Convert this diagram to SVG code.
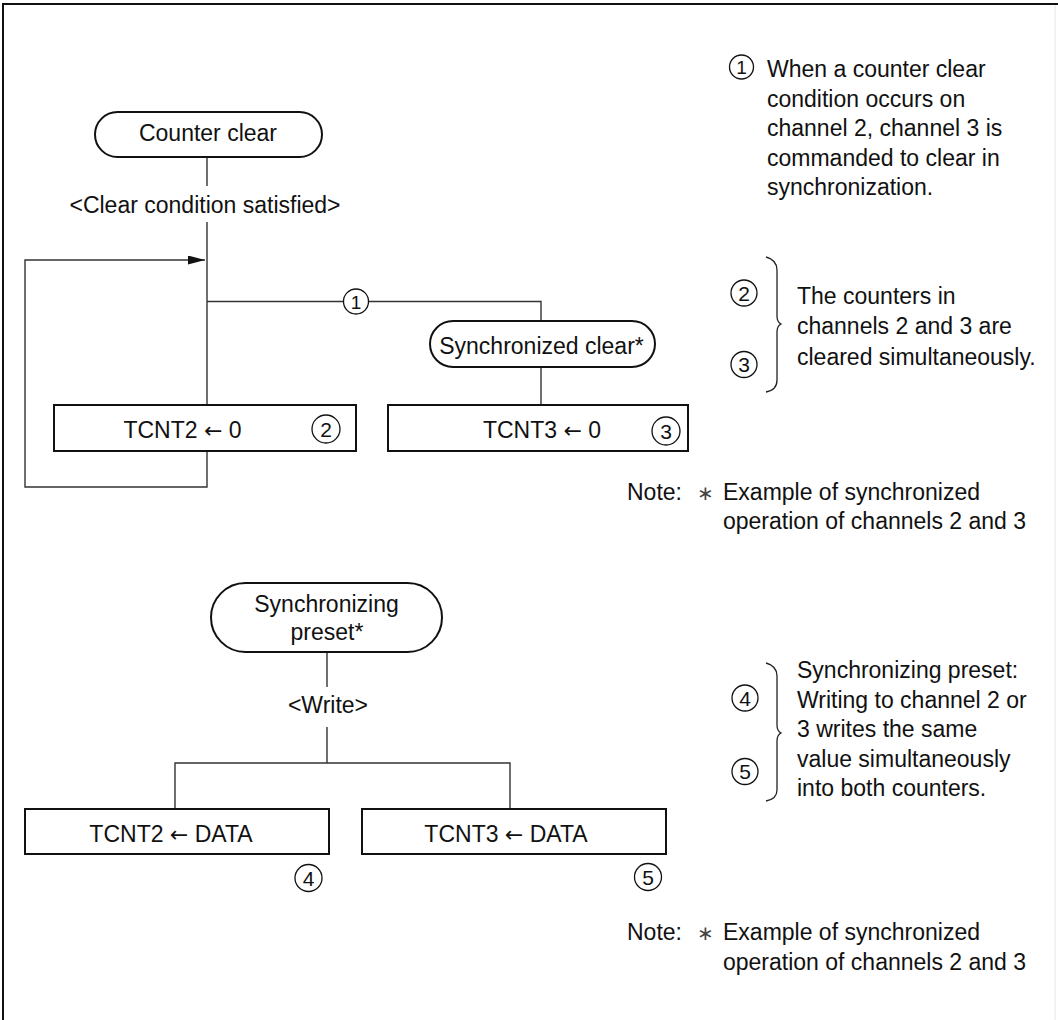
<svg xmlns="http://www.w3.org/2000/svg" width="1058" height="1020" viewBox="0 0 1058 1020">
  <defs>
    <style>
      text { font-family: "Liberation Sans", Arial, sans-serif; font-size: 23px; fill: #111; }
      .c { text-anchor: middle; }
      .ar { font-family: "DejaVu Sans", sans-serif; font-size: 22px; }
      .box { fill: #fff; stroke: #111; stroke-width: 2; }
      .line { fill: none; stroke: #333; stroke-width: 1.4; }
      .circ { fill: #fff; stroke: #111; stroke-width: 1.3; }
      .num { font-size: 21px; text-anchor: middle; }
      .brace { fill: none; stroke: #222; stroke-width: 1.3; }
      .star { font-size: 20px; fill: #444; }
    </style>
    <marker id="arrow" viewBox="0 0 17 9" refX="17" refY="4.5" markerWidth="17" markerHeight="9" markerUnits="userSpaceOnUse" orient="auto">
      <path d="M0,0 L17,4.5 L0,9 Z" fill="#111"/>
    </marker>
  </defs>
  <rect x="0" y="0" width="1058" height="1020" fill="#fff"/>
  <g id="frame">
    <line x1="2" y1="4" x2="1058" y2="4" stroke="#111" stroke-width="2"/>
    <line x1="3" y1="3" x2="3" y2="1020" stroke="#111" stroke-width="2"/>
    <line x1="1055" y1="5" x2="1055" y2="1020" stroke="#e6e6e6" stroke-width="1"/>
  </g>

  <g id="connectors">
    <line class="line" x1="207" y1="157" x2="207" y2="186"/>
    <line class="line" x1="207" y1="222" x2="207" y2="405"/>
    <path class="line" d="M207,451 V487 H25 V260 H205" marker-end="url(#arrow)"/>
    <line class="line" x1="207" y1="301.5" x2="344" y2="301.5"/>
    <path class="line" d="M368,301.5 H541 V321"/>
    <line class="line" x1="541" y1="367" x2="541" y2="405"/>
    <line class="line" x1="327" y1="652" x2="327" y2="687"/>
    <line class="line" x1="327" y1="727" x2="327" y2="763"/>
    <path class="line" d="M175,809 V763 H510 V809"/>
  </g>

  <g id="counter-clear">
    <rect class="box" x="95" y="112" width="227" height="45" rx="22.5"/>
    <text class="c" x="208" y="141">Counter clear</text>
  </g>
  <g id="clear-condition">
    <text class="c" x="205" y="213">&lt;Clear condition satisfied&gt;</text>
  </g>
  <g id="marker-1">
    <circle class="circ" cx="356" cy="301.5" r="12.5"/>
    <text class="num" x="356" y="308.5" style="font-size:19px">1</text>
  </g>
  <g id="sync-clear">
    <rect class="box" x="430" y="321" width="225" height="46" rx="23"/>
    <text class="c" x="541.5" y="354">Synchronized clear*</text>
  </g>
  <g id="tcnt2-0">
    <rect class="box" x="54" y="405" width="302" height="46"/>
    <text class="c" x="182.5" y="438">TCNT2 <tspan class="ar">←</tspan> 0</text>
    <circle class="circ" cx="326" cy="429" r="14"/>
    <text class="num" x="326" y="436.5">2</text>
  </g>
  <g id="tcnt3-0">
    <rect class="box" x="388" y="405" width="300" height="46"/>
    <text class="c" x="542" y="438">TCNT3 <tspan class="ar">←</tspan> 0</text>
    <circle class="circ" cx="666" cy="431" r="14"/>
    <text class="num" x="666" y="438.5">3</text>
  </g>

  <g id="sync-preset">
    <rect class="box" x="211" y="583" width="231" height="69" rx="34.5"/>
    <text class="c" x="326.5" y="612">Synchronizing</text>
    <text class="c" x="327" y="640">preset*</text>
  </g>
  <g id="write">
    <text class="c" x="328" y="713">&lt;Write&gt;</text>
  </g>
  <g id="tcnt2-data">
    <rect class="box" x="25" y="809" width="304" height="45"/>
    <text class="c" x="171" y="842">TCNT2 <tspan class="ar">←</tspan> DATA</text>
    <circle class="circ" cx="308.5" cy="878" r="13.5"/>
    <text class="num" x="308.5" y="885.5">4</text>
  </g>
  <g id="tcnt3-data">
    <rect class="box" x="362" y="809" width="304" height="45"/>
    <text class="c" x="506" y="842">TCNT3 <tspan class="ar">←</tspan> DATA</text>
    <circle class="circ" cx="648" cy="877" r="13.5"/>
    <text class="num" x="648" y="884.5">5</text>
  </g>

  <g id="note-1-desc">
    <circle class="circ" cx="741.5" cy="67" r="12"/>
    <text class="num" x="741.5" y="74" style="font-size:19px">1</text>
    <text x="767" y="77">When a counter clear</text>
    <text x="767" y="106.5">condition occurs on</text>
    <text x="767" y="136">channel 2, channel 3 is</text>
    <text x="767" y="165.5">commanded to clear in</text>
    <text x="767" y="195">synchronization.</text>
  </g>
  <g id="note-23-desc">
    <circle class="circ" cx="744" cy="293" r="13"/>
    <text class="num" x="744" y="300.5">2</text>
    <circle class="circ" cx="744" cy="364.5" r="13"/>
    <text class="num" x="744" y="372">3</text>
    <path class="brace" d="M766,257 Q777,260 777,270 V316 Q777,322 781,324 Q777,326 777,332 V380 Q777,390 766,392"/>
    <text x="797" y="303.5">The counters in</text>
    <text x="797" y="334">channels 2 and 3 are</text>
    <text x="797" y="364.5">cleared simultaneously.</text>
  </g>
  <g id="note-star-1">
    <text x="627" y="500">Note:</text>
    <text class="star" x="697" y="500">∗</text>
    <text x="723" y="500">Example of synchronized</text>
    <text x="723" y="529">operation of channels 2 and 3</text>
  </g>
  <g id="note-45-desc">
    <circle class="circ" cx="745" cy="698" r="13"/>
    <text class="num" x="745" y="705.5">4</text>
    <circle class="circ" cx="745" cy="771.5" r="13"/>
    <text class="num" x="745" y="779">5</text>
    <path class="brace" d="M766,663 Q777,666 777,676 V725 Q777,731 781,733 Q777,735 777,741 V790 Q777,799 766,801"/>
    <text x="797" y="678">Synchronizing preset:</text>
    <text x="797" y="707.5">Writing to channel 2 or</text>
    <text x="797" y="737">3 writes the same</text>
    <text x="797" y="766.5">value simultaneously</text>
    <text x="797" y="796">into both counters.</text>
  </g>
  <g id="note-star-2">
    <text x="627" y="940">Note:</text>
    <text class="star" x="697" y="940">∗</text>
    <text x="723" y="940">Example of synchronized</text>
    <text x="723" y="969.5">operation of channels 2 and 3</text>
  </g>
</svg>
